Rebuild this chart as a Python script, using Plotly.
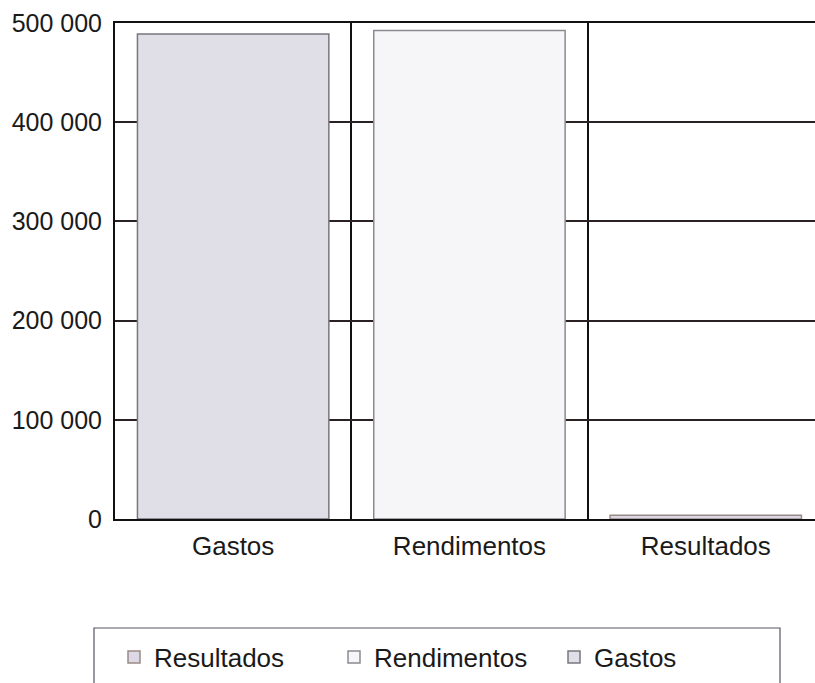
import plotly.graph_objects as go

categories = ["Gastos", "Rendimentos", "Resultados"]
series_names = ["Gastos", "Rendimentos", "Resultados"]
values = [489000, 492500, 3800]
y_ticks = [0, 100000, 200000, 300000, 400000, 500000]

fills = ["#e0dfe7", "#f6f5f8", "#dcd8e6"]
borders = ["#77777d", "#8a8a90", "#9a8a86"]

FONT = "Liberation Sans, Arial, sans-serif"

W, H = 815, 683
L, T = 115, 23
B = H - 519
PW = W - L
PH = 519 - T
CAT_W = 236.3

fig = go.Figure()
for i, name in enumerate(series_names):
    fig.add_trace(go.Bar(
        name=name,
        x=[categories[i]],
        y=[values[i]],
        width=0.81,
        marker=dict(color=fills[i], line=dict(color=borders[i], width=1.5)),
        hoverinfo="x+y",
    ))

fig.update_layout(
    width=W, height=H,
    margin=dict(l=L, r=0, t=T, b=B, autoexpand=False),
    paper_bgcolor="white", plot_bgcolor="white",
    barmode="relative",
    separators=", ",
    font=dict(family=FONT, size=26, color="#1a1a1a"),
    showlegend=True,
    legend=dict(
        orientation="h",
        traceorder="reversed",
        xref="container", yref="container",
        x=114 / W, xanchor="left",
        y=1 - 657 / H, yanchor="middle",
        bgcolor="rgba(0,0,0,0)",
        borderwidth=0,
        font=dict(family=FONT, size=26, color="#1a1a1a"),
        entrywidth=175,
        entrywidthmode="pixels",
    ),
    shapes=[dict(
        type="rect", xref="paper", yref="paper",
        x0=(94 - L) / PW, x1=(780 - L) / PW,
        y0=(519 - 710) / PH, y1=(519 - 628) / PH,
        line=dict(color="#555566", width=1.2),
        fillcolor="rgba(0,0,0,0)", layer="below",
    )],
)

fig.update_xaxes(
    type="category",
    categoryorder="array", categoryarray=categories,
    range=[-0.5, -0.5 + PW / CAT_W],
    showline=True, linecolor="#111111", linewidth=2, mirror=True,
    showgrid=True, gridcolor="#111111", gridwidth=1.5,
    tickson="boundaries", ticks="", ticklabelstandoff=3,
    tickfont=dict(family=FONT, size=26, color="#1a1a1a"),
    zeroline=False,
)
fig.update_yaxes(
    range=[0, 500000],
    tickvals=y_ticks, tickformat=",d",
    showline=True, linecolor="#111111", linewidth=2,
    showgrid=True, gridcolor="#2a2222", gridwidth=1.5,
    ticks="", ticklabelstandoff=6,
    tickfont=dict(family=FONT, size=25, color="#1a1a1a"),
    zeroline=False,
)

fig.write_html(
    "out.html",
    config={"displayModeBar": False},
    post_script="document.body.style.margin='0';document.body.style.overflow='hidden';",
)
